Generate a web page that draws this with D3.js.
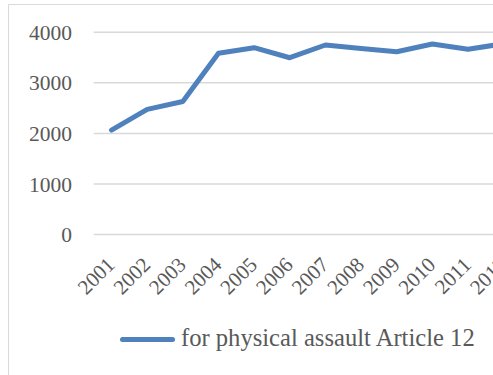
<!DOCTYPE html>
<html>
<head>
<meta charset="utf-8">
<script src="https://cdn.jsdelivr.net/npm/d3@7"></script>
<style>
  html, body { margin: 0; padding: 0; background: #fff; overflow: hidden; }
  svg { display: block; }
  text { font-family: "Liberation Serif", "Times New Roman", serif; fill: #595959; }
</style>
</head>
<body>
<svg id="chart" width="493" height="375"></svg>
<script>
// Yearly counts, physical assault (Article 12)
const years = ["2001","2002","2003","2004","2005","2006","2007","2008","2009","2010","2011","2012"];
const counts = [2065, 2475, 2630, 3584, 3695, 3497, 3749, 3680, 3616, 3768, 3663, 3774];
const yTicks = [0, 1000, 2000, 3000, 4000];
const seriesName = "for physical assault Article 12";

const svg = d3.select("#chart");
const lineColor = "#4f81bd";
const fontFamily = "Liberation Serif, Times New Roman, serif";

// chart frame (left and top edges)
svg.append("path")
  .attr("d", "M8.5,375 L8.5,4.5 L493,4.5")
  .attr("fill", "none")
  .attr("stroke", "#d9d9d9")
  .attr("stroke-width", 1);

const plotLeft = 93.7, plotRight = 521.5;
const x = d3.scaleBand().domain(years).range([plotLeft, plotRight]);
const y = d3.scaleLinear().domain([0, 4000]).range([234.5, 32.3]);

// horizontal gridlines
svg.append("g")
  .selectAll("line")
  .data(yTicks)
  .join("line")
  .attr("x1", plotLeft).attr("x2", plotRight)
  .attr("y1", d => y(d)).attr("y2", d => y(d))
  .attr("stroke", "#d9d9d9")
  .attr("stroke-width", 1.5);

// y axis labels
const yAxis = d3.axisLeft(y).tickValues(yTicks).tickSize(0).tickPadding(0).tickFormat(d3.format("d"));
const gy = svg.append("g").attr("transform", "translate(72,0)").call(yAxis);
gy.select(".domain").remove();
gy.selectAll("text")
  .attr("font-size", 21.5)
  .attr("font-family", fontFamily)
  .attr("fill", "#595959")
  .attr("dy", "0.33em");

// x axis labels, rotated 45 degrees, ending at each category
const xAxis = d3.axisBottom(x).tickSize(0).tickPadding(0);
const gx = svg.append("g").attr("transform", "translate(0,266)").call(xAxis);
gx.select(".domain").remove();
gx.selectAll("text")
  .attr("font-size", 21)
  .attr("font-family", fontFamily)
  .attr("fill", "#595959")
  .attr("text-anchor", "end")
  .attr("y", 0)
  .attr("dy", 0)
  .attr("transform", "translate(4.4,0) rotate(-45)");

// data line
const line = d3.line()
  .x((d, i) => x(years[i]) + x.bandwidth() / 2)
  .y(d => y(d));

svg.append("path")
  .datum(counts)
  .attr("d", line)
  .attr("fill", "none")
  .attr("stroke", lineColor)
  .attr("stroke-width", 5)
  .attr("stroke-linejoin", "round")
  .attr("stroke-linecap", "round");

// legend
const legend = svg.append("g").attr("transform", "translate(0,339.5)");
legend.append("line")
  .attr("x1", 122.5).attr("x2", 172.5)
  .attr("y1", 0).attr("y2", 0)
  .attr("stroke", lineColor)
  .attr("stroke-width", 5)
  .attr("stroke-linecap", "round");
legend.append("text")
  .attr("x", 181)
  .attr("y", 6)
  .attr("font-size", 24.6)
  .attr("font-family", fontFamily)
  .text(seriesName);
</script>
</body>
</html>
